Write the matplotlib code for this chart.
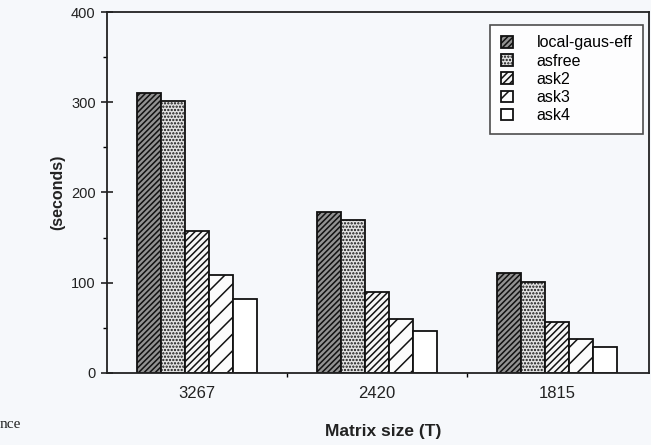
import matplotlib.pyplot as plt
import numpy as np

sizes = ['3267', '2420', '1815']
methods = ['local-gaus-eff', 'asfree', 'ask2', 'ask3', 'ask4']
times = {
    'local-gaus-eff': [310, 178, 111],
    'asfree': [301, 170, 101],
    'ask2': [157, 90, 56],
    'ask3': [108, 60, 38],
    'ask4': [82, 47, 29],
}

plt.rcParams['font.family'] = ['Liberation Sans', 'DejaVu Sans']
plt.rcParams['hatch.linewidth'] = 1.1

styles = {
    'local-gaus-eff': dict(facecolor='#929292', hatch='//////'),
    'asfree': dict(facecolor='#e2e2e2', hatch='.....'),
    'ask2': dict(facecolor='#f6f6f6', hatch='/////'),
    'ask3': dict(facecolor='#fbfbfb', hatch='//'),
    'ask4': dict(facecolor='white', hatch=''),
}

bg = '#f6f8fb'
fig = plt.figure(figsize=(6.51, 4.45), dpi=100, facecolor=bg)
ax = fig.add_axes([0.164, 0.162, 0.833, 0.811], facecolor=bg)

x = np.arange(len(sizes))
w = 0.133
for i, m in enumerate(methods):
    ax.bar(x + (i - 2) * w, times[m], w, edgecolor='#111111', linewidth=1.3,
           label=m, **styles[m])

ax.set_xlim(-0.5, 2.51)
ax.set_ylim(0, 400)
ax.set_yticks([0, 100, 200, 300, 400])
ax.set_yticks([50, 150, 250, 350], minor=True)
ax.set_xticks([0.5, 1.5])
ax.set_xticklabels(['', ''])
ax.tick_params(axis='y', direction='inout', length=8, width=1.2, labelsize=10.5,
               colors='#222222', pad=4)
ax.tick_params(axis='y', which='minor', direction='out', length=3, width=1.0)
ax.tick_params(axis='x', direction='out', length=3, width=1.0)
for s in ax.spines.values():
    s.set_linewidth(1.3)
    s.set_color('#222222')

for xi, lab in zip(x, sizes):
    ax.text(xi, -14, lab, ha='center', va='top', fontsize=12, color='#222222')

ax.set_ylabel('(seconds)', fontsize=11.5, fontweight='bold', labelpad=4, color='#222222')
fig.text(0.588, 0.03, 'Matrix size (T)', ha='center', va='center', fontsize=12.5,
         fontweight='bold', color='#222222')
fig.text(0.0, 0.045, 'nce', ha='left', va='center', fontsize=11,
         family=['Liberation Serif', 'DejaVu Serif'], color='#222222')

leg = ax.legend(loc='upper right', bbox_to_anchor=(0.989, 0.964), borderaxespad=0,
                fontsize=11.5, frameon=True, fancybox=False, edgecolor='#222222',
                borderpad=0.65, handlelength=0.75, handleheight=0.75, labelspacing=0.2,
                handletextpad=1.5)
leg.get_frame().set_linewidth(1.2)
leg.get_frame().set_facecolor('white')

fig.savefig('out.png', dpi=100, facecolor=bg)
